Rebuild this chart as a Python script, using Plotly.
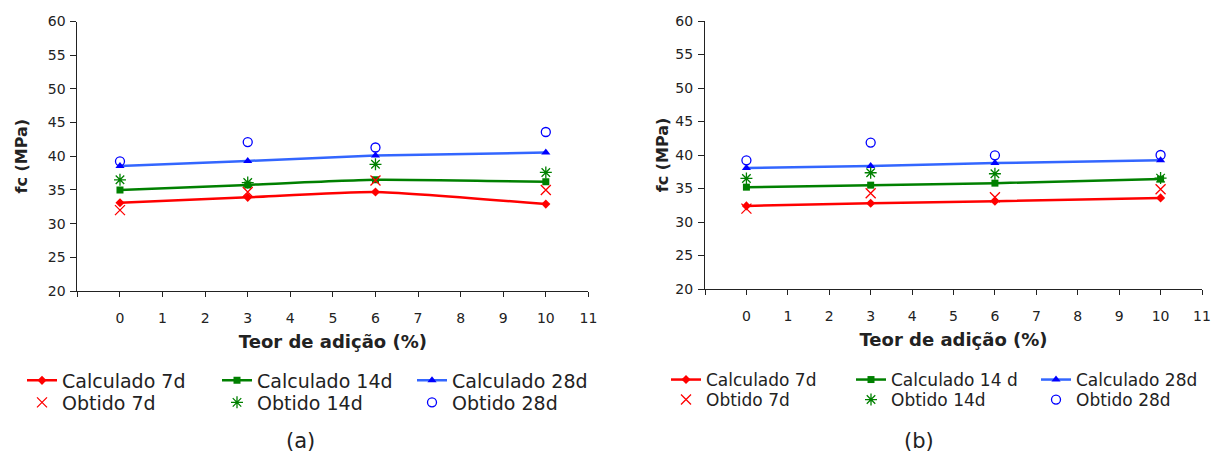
import plotly.graph_objects as go

# ---------------- data ----------------
teor = [0, 3, 6, 10]
tick_vals = [-1, 0, 1, 2, 3, 4, 5, 6, 7, 8, 9, 10, 11]
tick_text = ["", "0", "1", "2", "3", "4", "5", "6", "7", "8", "9", "10", "11"]

# panel (a)
a_calc7 = [33.1, 33.9, 34.7, 32.9]
a_calc14 = [35.0, 35.75, 36.5, 36.2]
a_calc28 = [38.55, 39.3, 40.1, 40.55]
a_obt7 = [32.0, 34.7, 36.4, 35.0]
a_obt14 = [36.5, 36.1, 38.8, 37.6]
a_obt28 = [39.25, 42.1, 41.3, 43.6]

# panel (b)
b_calc7 = [32.4, 32.8, 33.1, 33.6]
b_calc14 = [35.2, 35.5, 35.8, 36.4]
b_calc28 = [38.05, 38.35, 38.8, 39.2]
b_obt7 = [32.0, 34.3, 33.7, 34.9]
b_obt14 = [36.5, 37.35, 37.2, 36.55]
b_obt28 = [39.2, 41.85, 39.95, 40.0]

names_a = ["Calculado 7d", "Calculado 14d", "Calculado 28d", "Obtido 7d", "Obtido 14d", "Obtido 28d"]
names_b = ["Calculado 7d", "Calculado 14 d", "Calculado 28d", "Obtido 7d", "Obtido 14d", "Obtido 28d"]

FONT = "DejaVu Sans"
TXT = "#222222"
RED = "#FF0000"
GREEN = "#008000"
BLUE_LINE = "#3366FF"
BLUE = "#0000FF"

fig = go.Figure()


def add_panel(xa, ya, leg_calc, leg_obt, names, c7, c14, c28, o7, o14, o28):
    calc = [(c7, RED, RED, "diamond", 7), (c14, GREEN, GREEN, "square", 7), (c28, BLUE_LINE, BLUE, "triangle-up", 8)]
    obt = [(o7, RED, "x-thin-open", 10), (o14, GREEN, "asterisk-open", 10), (o28, BLUE, "circle-open", 9)]
    for i in range(3):
        vals, lc, mc, sym, sz = calc[i]
        fig.add_trace(go.Scatter(
            x=teor, y=vals, name=names[i], mode="lines+markers", xaxis=xa, yaxis=ya, legend=leg_calc,
            line=dict(color=lc, width=2.5, shape="spline", smoothing=0.5),
            marker=dict(symbol=sym, size=sz, color=mc),
        ))
    for i in range(3):
        vals, mc, sym, sz = obt[i]
        fig.add_trace(go.Scatter(
            x=teor, y=vals, name=names[3 + i], mode="markers", xaxis=xa, yaxis=ya, legend=leg_obt,
            marker=dict(symbol=sym, size=sz, color=mc, line=dict(color=mc, width=1.3)),
        ))


add_panel("x", "y", "legend", "legend2", names_a, a_calc7, a_calc14, a_calc28, a_obt7, a_obt14, a_obt28)
add_panel("x2", "y2", "legend3", "legend4", names_b, b_calc7, b_calc14, b_calc28, b_obt7, b_obt14, b_obt28)

W, H = 1213, 453

xaxis_common = dict(
    range=[-1, 11], tickmode="array", tickvals=tick_vals, ticktext=tick_text,
    ticks="outside", ticklen=5, tickcolor="#222", showline=True, linecolor="#222", linewidth=1,
    showgrid=False, zeroline=False, tickfont=dict(family=FONT, size=14, color=TXT),
    ticklabelstandoff=9, ticklabeloverflow="allow",
    title=dict(text="<b>Teor de adição (%)</b>", font=dict(family=FONT, size=18, color=TXT), standoff=10),
)
yaxis_common = dict(
    range=[20, 60], dtick=5, tick0=20,
    ticks="outside", ticklen=6, tickcolor="#222", showline=True, linecolor="#222", linewidth=1,
    showgrid=False, zeroline=False, tickfont=dict(family=FONT, size=14, color=TXT),
    ticklabelstandoff=2,
)
ytitle_font = dict(family=FONT, size=16, color=TXT)


def leg(x, y, size, ew):
    return dict(orientation="h", x=x / W, xanchor="left", y=1 - y / H, yanchor="middle",
                itemwidth=30, entrywidth=ew, entrywidthmode="pixels", traceorder="normal",
                font=dict(family=FONT, size=size, color=TXT), bgcolor="rgba(0,0,0,0)")


fig.update_layout(
    width=W, height=H,
    margin=dict(l=0, r=0, t=0, b=0, autoexpand=False),
    paper_bgcolor="white", plot_bgcolor="white",
    font=dict(family=FONT, color=TXT),
    showlegend=True,
    xaxis=dict(domain=[77.4 / W, 588.4 / W], anchor="y", **xaxis_common),
    yaxis=dict(domain=[1 - 291 / H, 1 - 21.5 / H], anchor="x",
               title=dict(text="<b>fc (MPa)</b>", font=ytitle_font, standoff=16), **yaxis_common),
    xaxis2=dict(domain=[705 / W, 1202 / W], anchor="y2", **xaxis_common),
    yaxis2=dict(domain=[1 - 289 / H, 1 - 21 / H], anchor="x2",
                title=dict(text="<b>fc (MPa)</b>", font=ytitle_font, standoff=2), **yaxis_common),
    legend=leg(22, 380.5, 19, 150),
    legend2=leg(22, 402.5, 19, 150),
    legend3=leg(666, 380, 17, 140),
    legend4=leg(666, 400, 17, 140),
    annotations=[
        dict(text="(a)", x=300 / W, y=1 - 441 / H, xref="paper", yref="paper", showarrow=False,
             yanchor="middle", xanchor="center", font=dict(family=FONT, size=21, color=TXT)),
        dict(text="(b)", x=919 / W, y=1 - 441 / H, xref="paper", yref="paper", showarrow=False,
             yanchor="middle", xanchor="center", font=dict(family=FONT, size=21, color=TXT)),
    ],
)

fig.write_html("out.html", post_script="document.body.style.margin='0px';",
               config={"displayModeBar": False})
